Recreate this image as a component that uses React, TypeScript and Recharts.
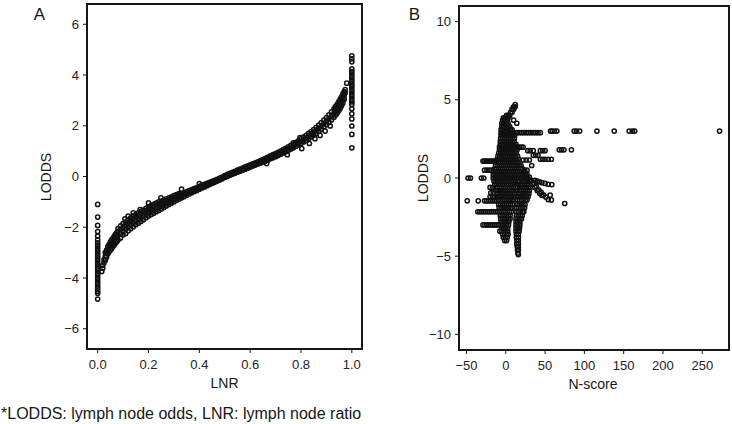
import { ScatterChart, Scatter, XAxis, YAxis, ReferenceLine } from "recharts";

// Panel A: LODDS, grouped by LNR column
const lnrZero = [
  -1.1, -1.6, -1.93, -2.17, -2.35, -2.5, -2.62, -2.72, -2.82, -2.92, -3.02, -3.12, -3.22, -3.32,
  -3.42, -3.52, -3.62, -3.72, -3.82, -3.92, -4.02, -4.12, -4.22, -4.32, -4.42, -4.52, -4.6, -4.83,
];
const lnrOne = [
  4.76, 4.64, 4.52, 4.24, 4.14, 4.04, 3.94, 3.84, 3.74, 3.64, 3.54, 3.44, 3.34, 3.24, 3.14, 3.04,
  2.94, 2.84, 2.67, 2.47, 2.27, 1.99, 1.66, 1.13,
];
const curveA: [number, number[]][] = [
  [0.016, [-3.74]], [0.02, [-3.62, -3.5]], [0.025, [-3.4, -3.28]], [0.03, [-3.3, -3.15, -3.0]],
  [0.035, [-3.18, -3.03, -2.9]], [0.04, [-3.05, -2.9, -2.76]], [0.045, [-2.97, -2.82, -2.68]],
  [0.05, [-2.9, -2.74, -2.58]], [0.055, [-2.84, -2.68, -2.5]], [0.06, [-2.76, -2.6, -2.44]],
  [0.065, [-2.7, -2.52, -2.36]], [0.07, [-2.62, -2.45, -2.28]], [0.075, [-2.57, -2.4, -2.22]],
  [0.08, [-2.5, -2.33, -2.16, -2.05]], [0.09, [-2.42, -2.25, -2.08, -1.95]],
  [0.1, [-2.3, -2.15, -2.0, -1.86]], [0.107, [-1.67]], [0.11, [-2.25, -2.08, -1.92, -1.8]],
  [0.12, [-2.14, -1.98, -1.83, -1.7, -1.56]], [0.13, [-2.06, -1.9, -1.75, -1.63]],
  [0.14, [-1.98, -1.82, -1.67, -1.55, -1.43]], [0.15, [-1.9, -1.75, -1.6, -1.5]],
  [0.16, [-1.84, -1.68, -1.54, -1.43]], [0.167, [-1.3]], [0.17, [-1.77, -1.62, -1.48, -1.38]],
  [0.18, [-1.7, -1.55, -1.42, -1.32]], [0.19, [-1.63, -1.48, -1.36, -1.26]],
  [0.2, [-1.56, -1.42, -1.3, -1.2, -1.04]], [0.21, [-1.5, -1.36, -1.24, -1.15]],
  [0.22, [-1.45, -1.32, -1.19, -1.1]], [0.23, [-1.39, -1.26, -1.14, -1.05]],
  [0.24, [-1.34, -1.2, -1.1, -1.0]], [0.249, [-0.84]], [0.25, [-1.28, -1.15, -1.05, -0.97]],
  [0.26, [-1.22, -1.1, -1.0, -0.93]], [0.27, [-1.16, -1.05, -0.96, -0.88]],
  [0.28, [-1.1, -1.0, -0.92, -0.84]], [0.29, [-1.05, -0.95, -0.87, -0.8]],
  [0.3, [-1.0, -0.9, -0.82, -0.75]], [0.31, [-0.94, -0.85, -0.77, -0.71]],
  [0.32, [-0.89, -0.8, -0.73, -0.67]], [0.33, [-0.84, -0.76, -0.68, -0.5]],
  [0.34, [-0.79, -0.71, -0.64]], [0.35, [-0.74, -0.66, -0.6]], [0.36, [-0.69, -0.62, -0.56]],
  [0.37, [-0.64, -0.57, -0.52]], [0.38, [-0.59, -0.53, -0.48]], [0.39, [-0.55, -0.49, -0.44]],
  [0.4, [-0.5, -0.44, -0.39, -0.28]], [0.41, [-0.45, -0.4, -0.35]], [0.42, [-0.41, -0.36, -0.31]],
  [0.43, [-0.36, -0.31, -0.27]], [0.44, [-0.32, -0.27, -0.23]], [0.45, [-0.27, -0.23, -0.19]],
  [0.46, [-0.23, -0.19, -0.15]], [0.47, [-0.18, -0.14, -0.11]], [0.48, [-0.14, -0.1, -0.06]],
  [0.49, [-0.09, -0.05, -0.02]], [0.5, [-0.04, 0.0, 0.04]], [0.51, [0.0, 0.04, 0.08]],
  [0.52, [0.05, 0.09, 0.12]], [0.53, [0.09, 0.13, 0.16]], [0.54, [0.13, 0.17, 0.2]],
  [0.55, [0.17, 0.21, 0.25]], [0.56, [0.21, 0.25, 0.29]], [0.57, [0.25, 0.29, 0.33]],
  [0.58, [0.29, 0.33, 0.38]], [0.59, [0.33, 0.37, 0.42]], [0.6, [0.37, 0.41, 0.46]],
  [0.61, [0.41, 0.45, 0.5]], [0.62, [0.45, 0.49, 0.54]], [0.63, [0.49, 0.53, 0.58]],
  [0.64, [0.53, 0.58, 0.63]], [0.65, [0.57, 0.62, 0.67]], [0.66, [0.61, 0.66, 0.72]],
  [0.665, [0.51]], [0.67, [0.65, 0.7, 0.76]], [0.68, [0.7, 0.75, 0.81]], [0.69, [0.74, 0.8, 0.86]],
  [0.7, [0.78, 0.84, 0.9]], [0.71, [0.83, 0.89, 0.95]], [0.72, [0.88, 0.94, 1.0]],
  [0.73, [0.93, 0.99, 1.06]], [0.74, [0.98, 1.04, 1.11]], [0.746, [0.86]],
  [0.75, [1.03, 1.1, 1.17]], [0.76, [1.08, 1.15, 1.23]], [0.77, [1.13, 1.21, 1.29, 1.33]],
  [0.78, [1.19, 1.27, 1.35]], [0.79, [1.25, 1.33, 1.41]], [0.796, [1.53]],
  [0.8, [1.3, 1.39, 1.48]], [0.803, [1.1]], [0.81, [1.36, 1.45, 1.55]], [0.82, [1.42, 1.52, 1.62]],
  [0.83, [1.49, 1.59, 1.7]], [0.833, [1.3]], [0.84, [1.56, 1.66, 1.77]], [0.85, [1.63, 1.74, 1.85]],
  [0.855, [1.49]], [0.86, [1.7, 1.82, 1.94]], [0.87, [1.78, 1.9, 2.03]], [0.875, [1.62]],
  [0.88, [1.86, 1.99, 2.12]], [0.89, [1.95, 2.08, 2.22]], [0.895, [1.79]],
  [0.9, [2.04, 2.18, 2.32]], [0.91, [2.13, 2.28, 2.43]], [0.915, [1.99]],
  [0.92, [2.23, 2.39, 2.55]], [0.93, [2.34, 2.5, 2.67]], [0.935, [2.42, 2.58, 2.75]],
  [0.94, [2.46, 2.63, 2.8]], [0.945, [2.54, 2.71, 2.88]], [0.95, [2.62, 2.8, 2.97]],
  [0.955, [2.7, 2.88, 3.06]], [0.96, [2.8, 2.98, 3.15]], [0.965, [2.9, 3.08, 3.26]],
  [0.97, [3.05, 3.2, 3.35]], [0.974, [3.3, 3.43]], [0.98, [3.68]],
];

// Panel B: N-score values, grouped by LODDS row
const rowsB: [number, number[]][] = [
  [4.7, [12]], [4.55, [10, 12]], [4.4, [8, 10]], [4.2, [6, 8]], [4.0, [1, 3, 5]],
  [3.85, [-3, -1, 1, 3]], [3.7, [-4, -2, 0, 2, 10]], [3.5, [-5, -3, -1, 1, 3, 14]],
  [3.3, [-5, -3, -1, 1, 3, 5]], [3.1, [-6, -4, -2, 0, 2, 4, 6, 8]],
  [3.0, [57, 59, 62, 65, 87, 90, 94, 116, 138, 157, 161, 164, 272]],
  [2.9, [-6, -4, -2, 0, 2, 4, 6, 8, 10, 14, 17, 20, 23, 26, 29, 32, 35, 38, 41, 44]],
  [2.75, [-6, -3.5, -1, 1.5, 4, 6.5, 9, 11.5]],
  [2.55, [-6.5, -4, -1.5, 1, 3.5, 6, 8.5, 11]],
  [2.35, [-7, -4.5, -2, 0.5, 3, 5.5, 8, 10.5]],
  [2.15, [-7, -4.5, -2, 0.5, 3, 5.5, 8, 10.5, 13]],
  [1.97, [-8, -5.5, -3, -0.5, 2, 4.5, 7, 9.5, 12, 14.5, 17, 19.5, 22]],
  [1.8, [-8, -5.5, -3, -0.5, 2, 4.5, 7, 9.5, 12, 14.5, 68, 71, 74, 83.5]],
  [1.75, [28, 31, 35, 44, 47, 50]],
  [1.6, [-9, -6.5, -4, -1.5, 1, 3.5, 6, 8.5, 11, 13.5]],
  [1.45, [35, 38, 41]],
  [1.4, [-10, -7.5, -5, -2.5, 0, 2.5, 5, 7.5, 10, 12.5, 15]],
  [1.2, [-11, -8.5, -6, -3.5, -1, 1.5, 4, 6.5, 9, 11.5, 14, 16.5, 44, 47, 50, 54, 58]],
  [1.15, [22, 26, 30]],
  [1.08, [-29, -27, -25, -23, -21, -19, -17, -15, -13]],
  [1.0, [-12, -9.5, -7, -4.5, -2, 0.5, 3, 5.5, 8, 10.5, 13, 15.5, 18]],
  [0.8, [-13, -10.5, -8, -5.5, -3, -0.5, 2, 4.5, 7, 9.5, 12, 14.5, 17, 19.5, 33]],
  [0.6, [-14, -11.5, -9, -6.5, -4, -1.5, 1, 3.5, 6, 8.5, 11, 13.5, 16, 18.5, 21]],
  [0.5, [-27, -24, -21, -18, 24, 27]],
  [0.4, [-15, -12.5, -10, -7.5, -5, -2.5, 0, 2.5, 5, 7.5, 10, 12.5, 15, 17.5, 20, 22.5]],
  [0.2, [-16, -13.5, -11, -8.5, -6, -3.5, -1, 1.5, 4, 6.5, 9, 11.5, 14, 16.5, 19, 21.5, 24]],
  [0.0, [-48, -45, -31, -28, -16, -13.5, -11, -8.5, -6, -3.5, -1, 1.5, 4, 6.5, 9, 11.5, 14, 16.5, 19, 21.5, 24, 26]],
  [-0.2, [-15, -12.5, -10, -7.5, -5, -2.5, 0, 2.5, 5, 7.5, 10, 12.5, 15, 17, 21, 24, 27, 30]],
  [-0.4, [-14, -11.5, -9, -6.5, -4, -1.5, 1, 3.5, 6, 8.5, 11, 13, 14.5, 19, 21.5, 24, 26.5, 29]],
  [-0.6, [-20, -17, -13, -10.5, -8, -5.5, -3, -0.5, 2, 4.5, 7, 9.5, 12, 14.5, 18.5, 21, 23.5, 26, 28.5, 31]],
  [-0.8, [-12.5, -10, -7.5, -5, -2.5, 0, 2.5, 5, 7.5, 10, 12.5, 14, 17.5, 20, 22.5, 25, 27.5, 30]],
  [-0.95, [-19, -16]],
  [-1.0, [-11, -8.5, -6, -3.5, -1, 1.5, 4, 6.5, 9, 11.5, 17, 19.5, 22, 24.5, 27, 29.5]],
  [-1.2, [-20, -17, -14, -10.5, -8, -5.5, -3, -0.5, 2, 4.5, 7, 9.5, 11, 16, 18.5, 21, 23.5, 26, 28.5]],
  [-1.4, [-9.5, -7, -4.5, -2, 0.5, 3, 5.5, 8, 10, 15, 17.5, 20, 22.5, 25, 27, 58]],
  [-1.46, [-49, -35, -27, -24.5, -22, -19.5, -17, -14.5, -12]],
  [-1.63, [75]],
  [-1.7, [-9, -6.5, -4, -1.5, 1, 3.5, 6, 8.5, 14.5, 17, 19.5, 22, 24.5]],
  [-1.9, [-8.5, -6, -3.5, -1, 1.5, 4, 6.5, 8, 14, 16.5, 19, 21.5, 24]],
  [-2.16, [-35.6, -33, -30.5, -28, -25.5, -23, -20.5, -18, -15.5, -13, -10.5, -8, -5.5, -3, -0.5, 2, 4.5, 7, 13.5, 16, 18.5, 21, 23]],
  [-2.4, [-7, -4.5, -2, 0.5, 3, 5.5, 13.5, 16, 18.5, 21]],
  [-2.6, [-6.5, -4, -1.5, 1, 3.5, 5.5, 13, 15.5, 18, 20]],
  [-2.8, [-6, -3.5, -1, 1.5, 4, 13, 15.5, 18]],
  [-3.0, [-29, -26.5, -24, -21.5, -19, -16.5, -14, -11.5, -9, -6.5, -4, -1.5, 1, 3.5, 13, 15.5, 18]],
  [-3.2, [-5, -2.5, 0, 2.5, 13, 15.5, 17.5]],
  [-3.4, [-7.5, -5, -2.5, 0, 2.5, 13, 15.5, 17]],
  [-3.6, [-4, -1.5, 1, 3, 13.5, 16]],
  [-3.8, [-3, -0.5, 2, 13.5, 16]],
  [-4.0, [-1.5, 1, 14, 16]],
  [-4.2, [14, 16]], [-4.4, [14.5, 16]], [-4.6, [15, 16]], [-4.8, [15.5]], [-4.9, [16]],
];
// branches running down-right from the core
const branchB: [number, number][] = [
  [24, 0.45], [27, 0.25], [30, 0.05], [33, -0.15], [36, -0.35], [39, -0.55], [42, -0.75],
  [45, -0.92], [48, -1.08], [51, -1.22], [54, -1.38], [25, 0.2], [28, 0.0], [31, -0.2],
  [34, -0.4], [37, -0.6], [40, -0.8], [43, -0.98], [46, -1.12], [37, -0.15], [40, -0.2],
  [43, -0.25], [46, -0.3], [50, -0.35], [54, -0.4], [58.6, -0.42], [56.5, -1.1],
];

const domainA_x = [-0.042, 1.04];
const domainA_y = [-6.8, 6.8];
const domainB_x = [-59.5, 284];
const domainB_y = [-11, 11];
const ticksA_x = [0, 0.2, 0.4, 0.6, 0.8, 1.0];
const ticksA_y = [-6, -4, -2, 0, 2, 4, 6];
const ticksB_x = [-50, 0, 50, 100, 150, 200, 250];
const ticksB_y = [-10, -5, 0, 5, 10];

const dataA = [
  ...lnrZero.map((y) => ({ x: 0, y })),
  ...lnrOne.map((y) => ({ x: 1, y })),
  ...curveA.flatMap(([x, ys]) => ys.map((y) => ({ x, y }))),
];
const dataB = [
  ...rowsB.flatMap(([y, xs]) => xs.map((x) => ({ x, y }))),
  ...branchB.map(([x, y]) => ({ x, y })),
];

const font = "'Liberation Sans', Arial, Helvetica, sans-serif";
const ink = "#161616";
const minus = (v: number) => String(v).replace("-", "\u2212");
const tick = { fontSize: 13, fill: "#222", fontFamily: font };
const frame = { stroke: ink, strokeWidth: 2 };

const Ring = (p: any) => (
  <circle cx={p.cx} cy={p.cy} r={2.1} fill="none" stroke="#111" strokeWidth={1.5} />
);

export default function App() {
  return (
    <div style={{ position: "absolute", left: 0, top: 0, width: 732, height: 424, background: "#fff", fontFamily: font }}>
      <div style={{ position: "absolute", left: 0, top: 0 }}>
        <ScatterChart width={370} height={400} margin={{ top: 4, right: 8, bottom: 21, left: 0 }}>
          <XAxis
            type="number"
            dataKey="x"
            height={30}
            domain={domainA_x}
            ticks={ticksA_x}
            tickFormatter={(v: number) => v.toFixed(1)}
            tick={tick}
            tickSize={4}
            tickMargin={7}
            axisLine={frame}
            tickLine={{ stroke: ink }}
            interval={0}
          />
          <YAxis
            type="number"
            dataKey="y"
            width={87}
            domain={domainA_y}
            ticks={ticksA_y}
            tickFormatter={minus}
            tick={tick}
            tickSize={4}
            tickMargin={4}
            axisLine={frame}
            tickLine={{ stroke: ink }}
            interval={0}
          />
          <ReferenceLine x={domainA_x[1]} {...frame} />
          <ReferenceLine y={domainA_y[1]} {...frame} />
          <Scatter data={dataA} shape={Ring} isAnimationActive={false} />
        </ScatterChart>
      </div>

      <div style={{ position: "absolute", left: 370, top: 0 }}>
        <ScatterChart width={362} height={400} margin={{ top: 6, right: 3, bottom: 20, left: 0 }}>
          <XAxis
            type="number"
            dataKey="x"
            height={30}
            domain={domainB_x}
            ticks={ticksB_x}
            tickFormatter={minus}
            tick={tick}
            tickSize={4}
            tickMargin={7}
            axisLine={frame}
            tickLine={{ stroke: ink }}
            interval={0}
          />
          <YAxis
            type="number"
            dataKey="y"
            width={89}
            domain={domainB_y}
            ticks={ticksB_y}
            tickFormatter={minus}
            tick={tick}
            tickSize={4}
            tickMargin={4}
            axisLine={frame}
            tickLine={{ stroke: ink }}
            interval={0}
          />
          <ReferenceLine x={domainB_x[1]} {...frame} />
          <ReferenceLine y={domainB_y[1]} {...frame} />
          <Scatter data={dataB} shape={Ring} isAnimationActive={false} />
        </ScatterChart>
      </div>

      <svg width={732} height={424} style={{ position: "absolute", left: 0, top: 0, pointerEvents: "none" }}>
        <rect x={87} y={4} width={275} height={345} fill="none" {...frame} />
        <rect x={459} y={6} width={270} height={344} fill="none" {...frame} />
        <g fontFamily={font} fill={ink}>
          <text x={39.5} y={14} fontSize={17} textAnchor="middle" dominantBaseline="central">A</text>
          <text x={414.5} y={14} fontSize={17} textAnchor="middle" dominantBaseline="central">B</text>
          <text x={46} y={177} fontSize={14} textAnchor="middle" dominantBaseline="central" transform="rotate(-90 46 177)">LODDS</text>
          <text x={422.5} y={178} fontSize={14} textAnchor="middle" dominantBaseline="central" transform="rotate(-90 422.5 178)">LODDS</text>
          <text x={224.5} y={383} fontSize={14} textAnchor="middle" dominantBaseline="central">LNR</text>
          <text x={593} y={383.5} fontSize={14} textAnchor="middle" dominantBaseline="central">N-score</text>
          <text x={1} y={413} fontSize={16} dominantBaseline="central">*LODDS: lymph node odds, LNR: lymph node ratio</text>
        </g>
      </svg>
    </div>
  );
}
